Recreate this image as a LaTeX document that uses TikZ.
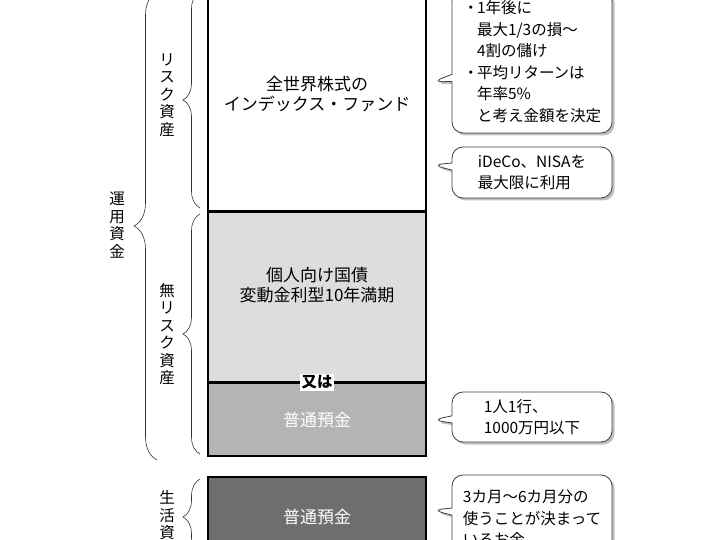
\documentclass[tikz,border=0pt]{standalone}
\usepackage{fontspec}
\setmainfont{Noto Sans CJK JP}
\usetikzlibrary{positioning,shapes.callouts,shadows,decorations.pathreplacing}

\definecolor{bondgray}{HTML}{DCDDDD}
\definecolor{depogray}{HTML}{B4B4B4}
\definecolor{livegray}{HTML}{6E6E6E}

\tikzset{
	fundbox/.style={draw=black, line width=1.6pt, minimum width=218pt, inner sep=0pt,
		align=center, font=\fontsize{17}{20}\selectfont},
	memo/.style={rectangle callout, draw=black!75, line width=0.8pt, fill=white,
		rounded corners=11pt, minimum width=160pt, align=left,
		drop shadow={shadow xshift=2.5pt, shadow yshift=-2.5pt, fill=black!50},
		font=\fontsize{15.5}{21.5}\selectfont},
	grp/.style={decorate, decoration={brace, amplitude=#1}, line width=0.6pt, black!80},
	vlabel/.style={align=center, inner sep=0pt, font=\fontsize{15.5}{17.5}\selectfont}
}
\newcommand{\dotitem}{\makebox[14pt][l]{・}}
\newcommand{\dotcont}{\hspace*{14pt}}

\begin{document}
\begin{tikzpicture}[x=1pt,y=-1pt]
	\useasboundingbox (0,0) rectangle (720,540);
	\clip (0,0) rectangle (720,540);

	% column of assets
	\node[fundbox, fill=white, minimum height=234pt] (stock) at (317,94)
		{全世界株式の\\インデックス・ファンド};
	\node[fundbox, fill=bondgray, minimum height=169pt, below=0pt of stock] (bond)
		{個人向け国債\\変動金利型10年満期\\[6pt]};
	\node[fundbox, fill=depogray, minimum height=73pt, below=0pt of bond, text=white] (depo)
		{普通預金};
	\node[fundbox, fill=livegray, minimum height=80pt, below=19pt of depo, text=white] (live)
		{普通預金};
	\node[fill=white, inner sep=1.5pt, font=\fontsize{15.5}{15.5}\selectfont\bfseries] (either)
		at (bond.south) {又は};

	% braces
	\draw[grp=17pt] (200,208) -- (200,-8);
	\draw[grp=17pt] (200,454) -- (200,214);
	\draw[grp=17pt] (200,555) -- (200,479);
	\draw[grp=23pt] (157,460) -- (157,-8);
	\node[vlabel] (risklbl) at (167,95) {リ\\ス\\ク\\資\\産};
	\node[vlabel] (norisklbl) at (167,334) {無\\リ\\ス\\ク\\資\\産};
	\node[vlabel] (livelbl) at (167,524) {生\\活\\資\\金};
	\node[vlabel] (fundlbl) at (117,225) {運\\用\\資\\金};

	% notes
	\node[memo, minimum height=143pt, callout absolute pointer={(432,82)}] (note1) at (532,61.5)
		{\dotitem 1年後に\\\dotcont 最大1/3の損〜\\\dotcont 4割の儲け\\\dotitem 平均リターンは\\\dotcont 年率5\%\\\dotcont と考え金額を決定};
	\node[memo, minimum height=51pt, callout absolute pointer={(432,165)}] (note2) at (532,172.5)
		{iDeCo、NISAを\\最大限に利用};
	\node[memo, minimum height=50pt, callout absolute pointer={(432,420)}] (note3) at (532,417)
		{1人1行、\\1000万円以下};
	\node[memo, minimum height=86pt, callout absolute pointer={(432,510)}] (note4) at (532,518)
		{3カ月〜6カ月分の\\使うことが決まって\\いるお金};
\end{tikzpicture}
\end{document}
